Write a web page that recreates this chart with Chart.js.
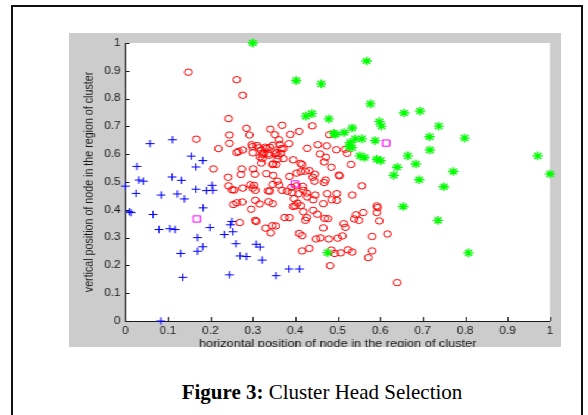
<!DOCTYPE html>
<html>
<head>
<meta charset="utf-8">
<script src="https://cdn.jsdelivr.net/npm/chart.js@4.4.1/dist/chart.umd.min.js"></script>
<style>
  html, body { margin: 0; padding: 0; background: #fff; width: 588px; height: 415px; overflow: hidden; }
  #frame { position: absolute; left: 11px; top: 5px; width: 568px; height: 430px; border: 2px solid #111; }
  #plot { position: absolute; left: 69px; top: 33px; width: 413px; height: 314px; overflow: hidden;
          background: #cccccc; transform: scaleX(1.1913); transform-origin: 0 0; }
  #caption { position: absolute; left: 0; top: 380px; width: 644px; line-height: 24px; text-align: center;
             font-size: 21px; font-family: "Liberation Serif", "Times New Roman", serif; color: #000; }
</style>
</head>
<body>
<div id="frame"></div>
<div id="plot"><canvas id="chart" width="413" height="330"></canvas></div>
<div id="caption"><b>Figure 3:</b> Cluster Head Selection</div>
<script>
// cluster members
const redX = [0.148,0.262,0.276,0.243,0.285,0.369,0.440,
  0.167,0.245,0.292,0.341,0.409,0.388,0.352,0.362,0.480,
  0.245,0.219,0.276,0.262,0.299,0.310,0.314,0.333,0.347,0.364,0.385,0.428,0.453,0.474,0.497,0.518,0.522,
  0.300,0.320,0.323,0.317,0.336,0.356,0.359,0.367,0.372,0.353,0.366,0.458,0.472,
  0.358,0.372,0.355,0.395,0.320,0.348,0.412,0.416,0.468,0.485,0.531,
  0.207,0.274,0.301,0.242,0.272,0.305,0.332,0.348,0.403,0.413,0.424,0.433,0.386,0.441,0.445,0.504,0.503,0.468,0.471,
  0.243,0.251,0.256,0.276,0.294,0.303,0.300,0.306,0.358,0.347,0.362,0.369,0.381,0.340,0.336,0.557,
  0.391,0.403,0.392,0.408,0.419,0.427,0.447,0.475,0.498,0.534,0.397,0.405,0.395,0.400,0.428,0.442,0.413,0.466,0.486,0.498,
  0.254,0.262,0.275,0.306,0.316,0.337,0.347,0.296,
  0.419,0.442,0.452,0.427,0.469,0.386,0.375,0.424,0.477,
  0.592,0.594,0.592,0.560,0.543,0.539,0.550,0.598,
  0.269,0.306,0.308,0.514,0.518,0.466,0.330,0.346,0.354,0.342,
  0.409,0.416,0.581,0.617,0.479,0.459,0.449,0.500,0.511,
  0.416,0.433,0.485,0.493,0.507,0.524,0.534,0.581,0.572,0.482,0.640,
  0.266,0.297,0.329,0.340,0.326,0.338,0.322,0.346,0.446,0.418];
const redY = [0.895,0.868,0.812,0.728,0.693,0.704,0.702,
  0.654,0.669,0.669,0.690,0.682,0.671,0.670,0.652,0.670,
  0.639,0.620,0.615,0.606,0.627,0.631,0.623,0.621,0.632,0.635,0.638,0.621,0.634,0.630,0.616,0.618,0.603,
  0.605,0.615,0.599,0.590,0.602,0.606,0.595,0.620,0.620,0.601,0.603,0.601,0.589,
  0.582,0.584,0.563,0.580,0.568,0.565,0.567,0.563,0.572,0.553,0.563,
  0.547,0.547,0.547,0.517,0.527,0.528,0.530,0.524,0.532,0.537,0.539,0.541,0.520,0.517,0.503,0.522,0.525,0.498,0.507,
  0.486,0.472,0.471,0.478,0.490,0.488,0.478,0.470,0.503,0.491,0.489,0.470,0.467,0.467,0.468,0.486,
  0.481,0.486,0.462,0.458,0.470,0.460,0.453,0.458,0.458,0.453,0.440,0.424,0.412,0.414,0.446,0.436,0.415,0.422,0.436,0.434,
  0.419,0.425,0.428,0.434,0.421,0.429,0.422,0.402,
  0.393,0.398,0.384,0.372,0.369,0.372,0.372,0.362,0.368,
  0.414,0.408,0.390,0.390,0.382,0.367,0.362,0.360,
  0.354,0.362,0.358,0.350,0.337,0.335,0.334,0.343,0.342,0.317,
  0.315,0.307,0.304,0.313,0.295,0.299,0.295,0.298,0.306,
  0.252,0.261,0.255,0.243,0.245,0.256,0.248,0.252,0.228,0.199,0.138,
  0.610,0.634,0.625,0.625,0.603,0.596,0.584,0.563,0.528,0.484];

const blueX = [0.000,0.009,0.013,0.027,0.025,0.032,0.042,0.058,0.065,0.079,0.084,0.083,
  0.111,0.110,0.105,0.117,0.122,0.132,0.139,0.130,0.135,0.155,0.166,0.182,0.166,0.183,
  0.170,0.170,0.182,0.191,0.204,0.206,0.199,0.233,0.245,0.251,0.247,0.253,0.260,0.270,
  0.285,0.308,0.317,0.322,0.355,0.385,0.410];
const blueY = [0.485,0.393,0.390,0.556,0.459,0.507,0.503,0.638,0.383,0.329,0.453,0.000,
  0.652,0.518,0.332,0.329,0.457,0.506,0.439,0.243,0.157,0.593,0.554,0.577,0.474,0.407,
  0.300,0.251,0.267,0.469,0.488,0.470,0.336,0.311,0.166,0.358,0.346,0.321,0.278,0.234,
  0.232,0.276,0.266,0.219,0.163,0.187,0.187];

const greenX = [0.300,0.568,0.402,0.461,0.577,0.425,0.439,0.479,0.656,0.694,0.598,0.603,0.738,
  0.491,0.495,0.515,0.534,0.541,0.557,0.529,0.527,0.533,0.588,0.716,0.799,0.717,0.552,0.563,
  0.665,0.592,0.601,0.684,0.640,0.632,0.772,0.692,0.750,0.971,1.000,0.654,0.736,0.808,0.476];
const greenY = [1.000,0.935,0.865,0.853,0.781,0.737,0.746,0.727,0.748,0.755,0.717,0.701,0.701,
  0.675,0.671,0.678,0.694,0.655,0.655,0.642,0.627,0.623,0.649,0.663,0.658,0.615,0.594,0.588,
  0.594,0.582,0.577,0.565,0.553,0.524,0.538,0.508,0.483,0.594,0.529,0.412,0.362,0.245,0.246];

// cluster heads
const headX = [0.168, 0.399, 0.614];
const headY = [0.367, 0.493, 0.640];

const tickLabels = ['0','0.1','0.2','0.3','0.4','0.5','0.6','0.7','0.8','0.9','1'];
const xTitle = 'horizontal position of node in the region of cluster';
const yTitle = 'vertical position of node in the region of cluster';

const pts = (xs, ys) => xs.map((x, i) => ({ x: x, y: ys[i] }));
const family = '"Liberation Sans", Arial, sans-serif';
const ink = '#1a1a1a';

const plotBg = {
    id: 'plotBg',
    beforeDraw(chart) {
        const a = chart.chartArea;
        chart.ctx.save();
        chart.ctx.fillStyle = '#fff';
        chart.ctx.fillRect(a.left, a.top, a.right - a.left, a.bottom - a.top);
        chart.ctx.restore();
    }
};

// matlab style ticks pointing into the plot
const inwardTicks = {
    id: 'inwardTicks',
    beforeDatasetsDraw(chart) {
        const { ctx, chartArea: a, scales } = chart;
        ctx.save();
        ctx.strokeStyle = ink;
        ctx.lineWidth = 1;
        ctx.beginPath();
        scales.x.ticks.forEach(t => {
            const px = Math.round(scales.x.getPixelForValue(t.value)) + 0.5;
            ctx.moveTo(px, a.bottom);
            ctx.lineTo(px, a.bottom - 4);
        });
        scales.y.ticks.forEach(t => {
            const py = Math.round(scales.y.getPixelForValue(t.value)) + 0.5;
            ctx.moveTo(a.left, py);
            ctx.lineTo(a.left + 3.4, py);
        });
        ctx.stroke();
        ctx.restore();
    }
};

new Chart(document.getElementById('chart'), {
    type: 'scatter',
    data: {
        datasets: [
            { data: pts(headX, headY), pointStyle: 'rect', pointRadius: 4.4, borderWidth: 1,
              borderColor: '#ff00ff', backgroundColor: 'rgba(0,0,0,0)', order: 0, clip: false },
            { data: pts(greenX, greenY), pointStyle: 'star', pointRadius: 4.3, borderWidth: 1.4,
              borderColor: '#00ff00', backgroundColor: '#00ff00', order: 1, clip: false },
            { data: pts(blueX, blueY), pointStyle: 'cross', pointRadius: 3.7, borderWidth: 1,
              borderColor: '#0000ff', backgroundColor: '#0000ff', order: 2, clip: false },
            { data: pts(redX, redY), pointStyle: 'circle', pointRadius: 3.2, borderWidth: 1,
              borderColor: '#ff0000', backgroundColor: 'rgba(0,0,0,0)', order: 3, clip: false }
        ]
    },
    options: {
        responsive: false,
        animation: false,
        events: [],
        layout: { padding: { left: 0, right: 9.2, top: 9, bottom: 0 } },
        plugins: { legend: { display: false }, tooltip: { enabled: false } },
        scales: {
            x: {
                type: 'linear', min: 0, max: 1,
                afterFit: s => { s.height = 42; },
                grid: { display: false, drawTicks: false },
                border: { display: true, color: ink, width: 1 },
                ticks: { stepSize: 0.1, autoSkip: false, maxRotation: 0, padding: 4, color: ink,
                         font: { family: family, size: 10 },
                         callback: (v, i) => tickLabels[i] },
                title: { display: true, text: xTitle, color: ink, font: { family: family, size: 10.7 },
                         padding: { top: 0, bottom: 13 } }
            },
            y: {
                type: 'linear', min: 0, max: 1,
                afterFit: s => { s.width = 47.4; },
                grid: { display: false, drawTicks: false },
                border: { display: true, color: ink, width: 1 },
                ticks: { stepSize: 0.1, autoSkip: false, padding: 4, color: ink,
                         font: { family: family, size: 10 },
                         callback: (v, i) => tickLabels[i] },
                title: { display: true, text: yTitle, color: ink, font: { family: family, size: 10.7 },
                         padding: { top: 10.4, bottom: 0 } }
            }
        }
    },
    plugins: [plotBg, inwardTicks]
});
</script>
</body>
</html>
